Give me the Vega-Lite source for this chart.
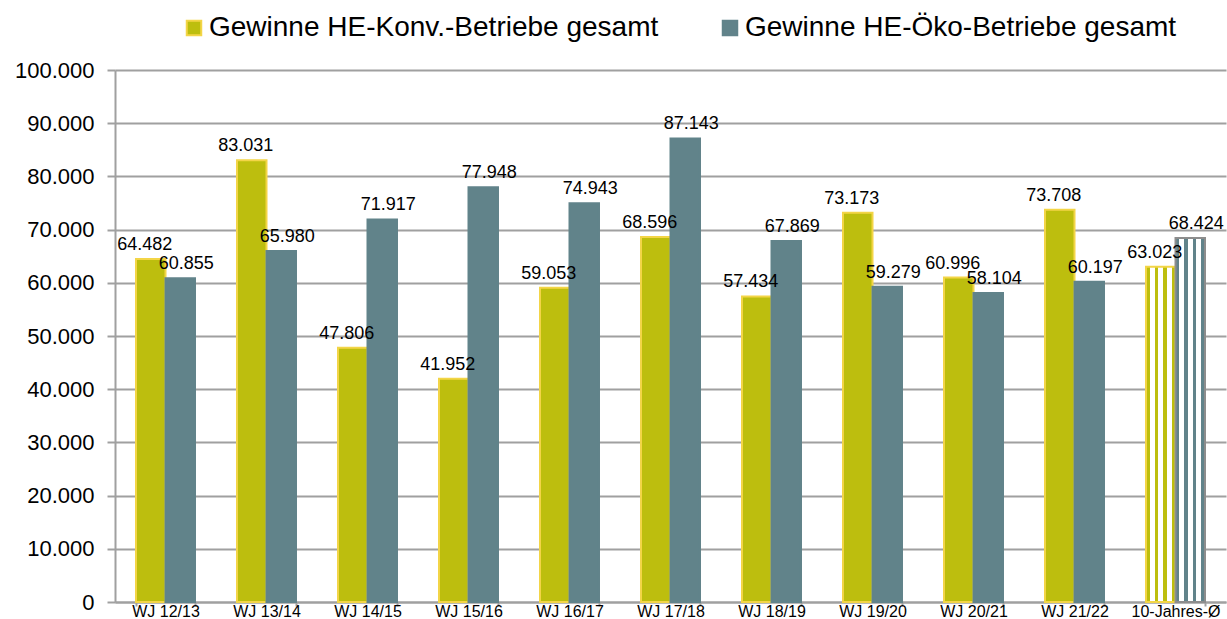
{
  "$schema": "https://vega.github.io/schema/vega-lite/v6.json",
  "width": 1111,
  "height": 532,
  "autosize": "none",
  "padding": {"left": 115, "top": 70, "right": 1, "bottom": 17},
  "config": {
    "locale": {"number": {"decimal": ",", "thousands": ".", "grouping": [3], "currency": ["", " €"]}},
    "font": "Liberation Sans",
    "view": {"stroke": null}
  },
  "data": {
    "values": [
      {"cat": "WJ 12/13", "series": "Gewinne HE-Konv.-Betriebe gesamt", "value": 64482},
      {"cat": "WJ 12/13", "series": "Gewinne HE-Öko-Betriebe gesamt", "value": 60855},
      {"cat": "WJ 13/14", "series": "Gewinne HE-Konv.-Betriebe gesamt", "value": 83031},
      {"cat": "WJ 13/14", "series": "Gewinne HE-Öko-Betriebe gesamt", "value": 65980},
      {"cat": "WJ 14/15", "series": "Gewinne HE-Konv.-Betriebe gesamt", "value": 47806},
      {"cat": "WJ 14/15", "series": "Gewinne HE-Öko-Betriebe gesamt", "value": 71917},
      {"cat": "WJ 15/16", "series": "Gewinne HE-Konv.-Betriebe gesamt", "value": 41952},
      {"cat": "WJ 15/16", "series": "Gewinne HE-Öko-Betriebe gesamt", "value": 77948},
      {"cat": "WJ 16/17", "series": "Gewinne HE-Konv.-Betriebe gesamt", "value": 59053},
      {"cat": "WJ 16/17", "series": "Gewinne HE-Öko-Betriebe gesamt", "value": 74943},
      {"cat": "WJ 17/18", "series": "Gewinne HE-Konv.-Betriebe gesamt", "value": 68596},
      {"cat": "WJ 17/18", "series": "Gewinne HE-Öko-Betriebe gesamt", "value": 87143},
      {"cat": "WJ 18/19", "series": "Gewinne HE-Konv.-Betriebe gesamt", "value": 57434},
      {"cat": "WJ 18/19", "series": "Gewinne HE-Öko-Betriebe gesamt", "value": 67869},
      {"cat": "WJ 19/20", "series": "Gewinne HE-Konv.-Betriebe gesamt", "value": 73173},
      {"cat": "WJ 19/20", "series": "Gewinne HE-Öko-Betriebe gesamt", "value": 59279},
      {"cat": "WJ 20/21", "series": "Gewinne HE-Konv.-Betriebe gesamt", "value": 60996},
      {"cat": "WJ 20/21", "series": "Gewinne HE-Öko-Betriebe gesamt", "value": 58104},
      {"cat": "WJ 21/22", "series": "Gewinne HE-Konv.-Betriebe gesamt", "value": 73708},
      {"cat": "WJ 21/22", "series": "Gewinne HE-Öko-Betriebe gesamt", "value": 60197},
      {"cat": "10-Jahres-Ø", "series": "Gewinne HE-Konv.-Betriebe gesamt", "value": 63023},
      {"cat": "10-Jahres-Ø", "series": "Gewinne HE-Öko-Betriebe gesamt", "value": 68424}
    ]
  },
  "encoding": {
    "x": {
      "field": "cat", "type": "nominal", "sort": null,
      "scale": {"paddingInner": 0.416, "paddingOuter": 0.208},
      "axis": {
        "title": null, "labelAngle": 0, "labelFontSize": 16, "labelColor": "#000000",
        "tickBand": "extent", "tickSize": 4, "tickColor": "#A0A0A0", "tickWidth": 2,
        "domainColor": "#A0A0A0", "domainWidth": 2, "labelPadding": -3, "grid": false,
        "labelOverlap": false, "labelBound": false
      }
    },
    "xOffset": {"field": "series", "type": "nominal", "sort": null},
    "y": {
      "field": "value", "type": "quantitative",
      "scale": {"domain": [0, 100000], "nice": false},
      "axis": {
        "title": null, "format": ",.0f",
        "values": [0, 10000, 20000, 30000, 40000, 50000, 60000, 70000, 80000, 90000, 100000],
        "labelFontSize": 22, "labelColor": "#000000",
        "tickSize": 8, "tickColor": "#A0A0A0", "tickWidth": 2,
        "domainColor": "#A0A0A0", "domainWidth": 2,
        "gridColor": "#A0A0A0", "gridWidth": 2, "labelPadding": 13
      }
    }
  },
  "layer": [
    {
      "transform": [{"filter": "datum.cat !== '10-Jahres-Ø'"}],
      "mark": {"type": "bar", "strokeWidth": 2},
      "encoding": {
        "fill": {
          "field": "series", "type": "nominal", "sort": null,
          "scale": {"range": ["#BDBE0E", "#61838A"]},
          "legend": {
            "title": null, "orient": "none", "legendX": 65, "legendY": -56,
            "direction": "horizontal", "columns": 2, "symbolType": "square",
            "symbolSize": 210, "symbolStrokeWidth": 2, "labelFontSize": 28,
            "labelColor": "#000000", "labelOffset": 1, "columnPadding": 57, "labelLimit": 700
          }
        },
        "stroke": {
          "field": "series", "type": "nominal", "sort": null,
          "scale": {"range": ["#F3D547", "#61838A"]}
        }
      }
    },
    {
      "transform": [{"filter": "datum.cat === '10-Jahres-Ø' && datum.series === 'Gewinne HE-Konv.-Betriebe gesamt'"}],
      "mark": {
        "type": "bar", "stroke": "#F3D547", "strokeWidth": 2,
        "fill": {
          "gradient": "linear", "x1": 0, "x2": 1, "y1": 0, "y2": 0,
          "stops": [
            {"offset": 0, "color": "#BDBE0E"}, {"offset": 0.127, "color": "#BDBE0E"},
            {"offset": 0.127, "color": "#FFFFFF"}, {"offset": 0.293, "color": "#FFFFFF"},
            {"offset": 0.293, "color": "#BDBE0E"}, {"offset": 0.42, "color": "#BDBE0E"},
            {"offset": 0.42, "color": "#FFFFFF"}, {"offset": 0.58, "color": "#FFFFFF"},
            {"offset": 0.58, "color": "#BDBE0E"}, {"offset": 0.707, "color": "#BDBE0E"},
            {"offset": 0.707, "color": "#FFFFFF"}, {"offset": 0.873, "color": "#FFFFFF"},
            {"offset": 0.873, "color": "#BDBE0E"}, {"offset": 1, "color": "#BDBE0E"}
          ]
        }
      },
      "encoding": {}
    },
    {
      "transform": [{"filter": "datum.cat === '10-Jahres-Ø' && datum.series === 'Gewinne HE-Öko-Betriebe gesamt'"}],
      "mark": {
        "type": "bar", "stroke": "#8D8D8D", "strokeWidth": 2,
        "fill": {
          "gradient": "linear", "x1": 0, "x2": 1, "y1": 0, "y2": 0,
          "stops": [
            {"offset": 0, "color": "#61838A"}, {"offset": 0.127, "color": "#61838A"},
            {"offset": 0.127, "color": "#FFFFFF"}, {"offset": 0.293, "color": "#FFFFFF"},
            {"offset": 0.293, "color": "#61838A"}, {"offset": 0.42, "color": "#61838A"},
            {"offset": 0.42, "color": "#FFFFFF"}, {"offset": 0.58, "color": "#FFFFFF"},
            {"offset": 0.58, "color": "#61838A"}, {"offset": 0.707, "color": "#61838A"},
            {"offset": 0.707, "color": "#FFFFFF"}, {"offset": 0.873, "color": "#FFFFFF"},
            {"offset": 0.873, "color": "#61838A"}, {"offset": 1, "color": "#61838A"}
          ]
        }
      },
      "encoding": {}
    },
    {
      "transform": [{"filter": "datum.series === 'Gewinne HE-Konv.-Betriebe gesamt'"}],
      "mark": {"type": "text", "fontSize": 18, "color": "#000000", "baseline": "alphabetic", "dy": -9, "dx": -6},
      "encoding": {"text": {"field": "value", "type": "quantitative", "format": ",.0f"}}
    },
    {
      "transform": [{"filter": "datum.series === 'Gewinne HE-Öko-Betriebe gesamt'"}],
      "mark": {"type": "text", "fontSize": 18, "color": "#000000", "baseline": "alphabetic", "dy": -9, "dx": 6},
      "encoding": {"text": {"field": "value", "type": "quantitative", "format": ",.0f"}}
    }
  ]
}
